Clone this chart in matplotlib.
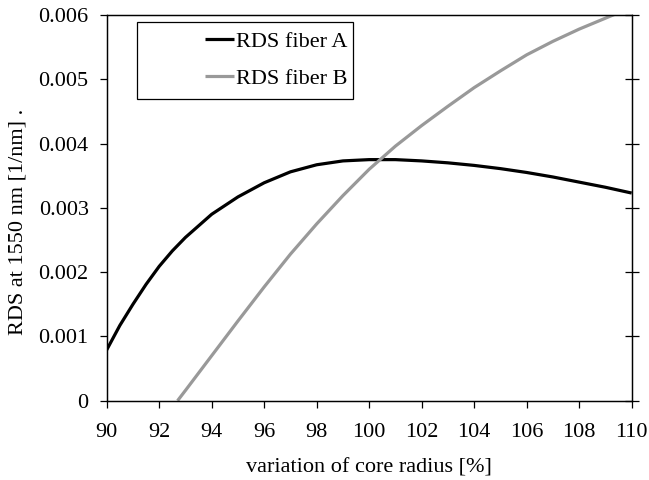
import matplotlib

matplotlib.use("Agg")
import matplotlib.pyplot as plt
from matplotlib.patches import Rectangle
from matplotlib.ticker import FuncFormatter

# core radius variation [%] and RDS [1/nm] for both fibers
radius_a = [90, 90.5, 91, 91.5, 92, 92.5, 93, 93.5, 94, 95, 96, 97, 98, 99, 100,
            101, 102, 103, 104, 105, 106, 107, 108, 109, 110]
rds_a = [0.00079, 0.00117, 0.00150, 0.00181, 0.00209, 0.00233, 0.00254,
         0.00272, 0.00290, 0.00317, 0.00339, 0.00356, 0.00367, 0.00373,
         0.00375, 0.00375, 0.00373, 0.00370, 0.00366, 0.00361, 0.00355,
         0.00348, 0.00340, 0.00332, 0.00323]

radius_b = [92.7, 93, 94, 95, 96, 97, 98, 99, 100, 101,
            102, 103, 104, 105, 106, 107, 108, 109, 110]
rds_b = [0.0, 0.00016, 0.00070, 0.00124, 0.00177, 0.00228, 0.00275,
         0.00319, 0.00360, 0.00396, 0.00428, 0.00458, 0.00487, 0.00513,
         0.00538, 0.00559, 0.00578, 0.00595, 0.00612]

x_ticks = [90, 92, 94, 96, 98, 100, 102, 104, 106, 108, 110]
y_ticks = [0, 0.001, 0.002, 0.003, 0.004, 0.005, 0.006]

SERIF = ["Liberation Serif", "DejaVu Serif"]
plt.rcParams["font.family"] = SERIF
plt.rcParams["font.size"] = 16

fig = plt.figure(figsize=(6.49, 4.80), dpi=100)
ax = fig.add_axes([0.1644, 0.1652, 0.8089, 0.8036])

ax.plot(radius_a, rds_a, color="black", linewidth=2.3, label="RDS fiber A",
        solid_capstyle="butt")
ax.plot(radius_b, rds_b, color="#999999", linewidth=2.3, label="RDS fiber B",
        solid_capstyle="butt")

ax.set_xlim(90, 110)
ax.set_ylim(0, 0.006)
ax.set_xticks(x_ticks)
ax.set_yticks(y_ticks)
ax.yaxis.set_major_formatter(FuncFormatter(lambda v, _: "0" if v == 0 else f"{v:.3f}"))

for side in ["left", "right", "top", "bottom"]:
    ax.spines[side].set_linewidth(0.9)
    ax.spines[side].set_color("black")

ax.tick_params(axis="x", direction="out", length=5, width=0.9, pad=11, top=False,
               labelsize=16, labelfontfamily="Liberation Serif")
ax.tick_params(axis="y", direction="out", length=5, width=0.9, pad=8, right=False,
               labelsize=16, labelfontfamily="Liberation Serif")

# right-hand ticks cross the spine
rax = ax.twinx()
rax.set_ylim(ax.get_ylim())
rax.set_yticks(y_ticks)
rax.tick_params(axis="y", direction="inout", length=10, width=0.9, labelright=False)
for side in ["left", "right", "top", "bottom"]:
    rax.spines[side].set_linewidth(0.9)

ax.set_xlabel("variation of core radius [%]")
ax.set_ylabel("RDS at 1550 nm [1/nm] .")
ax.xaxis.set_label_coords(0.5, -0.150)
ax.yaxis.set_label_coords(-0.150, 0.4646)

# boxed legend with the entries pushed to the right edge
box = Rectangle((0.0577, 0.782), 0.4113, 0.2, transform=ax.transAxes,
                fill=True, facecolor="white", edgecolor="black", linewidth=0.9,
                zorder=4)
ax.add_patch(box)
leg = ax.legend(loc="upper right", bbox_to_anchor=(0.472, 0.975), frameon=False,
                handlelength=1.3, handletextpad=0.1, labelspacing=0.75,
                borderpad=0.3, borderaxespad=0.0)
leg.set_zorder(5)

fig.savefig("out.png", dpi=100)
